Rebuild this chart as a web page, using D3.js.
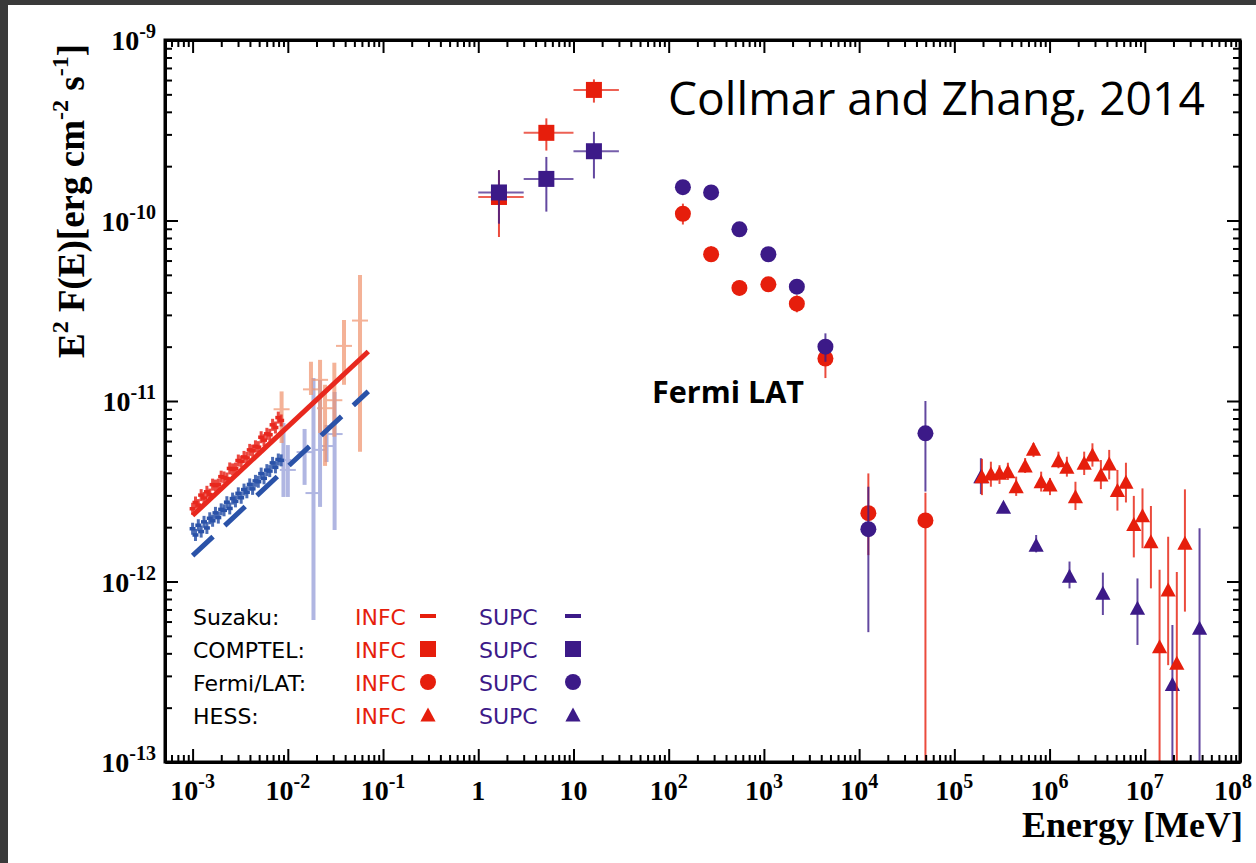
<!DOCTYPE html>
<html>
<head>
<meta charset="utf-8">
<script src="https://cdn.jsdelivr.net/npm/d3@7"></script>
<style>
  html, body { margin: 0; padding: 0; background: #fff; overflow: hidden; }
  svg { display: block; }
</style>
</head>
<body>
<svg id="chart" width="1256" height="863"></svg>
<script>
/* SED of a source: Suzaku, COMPTEL, Fermi/LAT and HESS points for two
   states (INFC in red, SUPC in purple). */

const WIDTH = 1256, HEIGHT = 863;
const plot = {left: 165, right: 1240, top: 40, bottom: 762};
const colors = {
    infc: '#e61e0c',
    supc: '#3c1a88',
    infcLine: '#e8281e',
    supcLine: '#2a52a8',
    infcLight: '#f0926c',
    supcLight: '#8f98d6',
    border: '#3a3a3a'
};

// axes
const xDomain = [5.13e-4, 1e8];
const yDomain = [1e-13, 1e-9];
const xMajor = [1e-3, 1e-2, 1e-1, 1, 10, 1e2, 1e3, 1e4, 1e5, 1e6, 1e7, 1e8];
const xTickLabels = [['10', '-3'], ['10', '-2'], ['10', '-1'], ['1', ''], ['10', ''],
    ['10', '2'], ['10', '3'], ['10', '4'], ['10', '5'], ['10', '6'], ['10', '7'], ['10', '8']];
const yMajor = [1e-13, 1e-12, 1e-11, 1e-10, 1e-9];
const yTickLabels = [['10', '-13'], ['10', '-12'], ['10', '-11'], ['10', '-10'], ['10', '-9']];

// Suzaku XIS (MeV, erg cm-2 s-1), INFC and SUPC share the energies
const suzakuE = [1.000e-3, 1.072e-3, 1.148e-3, 1.230e-3, 1.318e-3, 1.413e-3, 1.514e-3, 1.622e-3,
    1.738e-3, 1.862e-3, 1.995e-3, 2.138e-3, 2.291e-3, 2.455e-3, 2.630e-3, 2.818e-3,
    3.020e-3, 3.236e-3, 3.467e-3, 3.715e-3, 3.981e-3, 4.266e-3, 4.571e-3, 4.898e-3,
    5.248e-3, 5.623e-3, 6.026e-3, 6.457e-3, 6.918e-3, 7.413e-3, 7.943e-3, 8.511e-3];
const suzakuInfcF = [2.53e-12, 2.74e-12, 2.65e-12, 3.01e-12, 2.90e-12, 3.14e-12, 3.03e-12, 3.44e-12,
    3.40e-12, 3.44e-12, 3.81e-12, 3.77e-12, 3.72e-12, 4.23e-12, 4.18e-12, 4.22e-12,
    4.68e-12, 4.62e-12, 4.90e-12, 4.84e-12, 5.36e-12, 5.30e-12, 5.61e-12, 5.55e-12,
    6.30e-12, 6.07e-12, 6.58e-12, 6.50e-12, 7.38e-12, 7.13e-12, 8.09e-12, 7.80e-12];
const suzakuSupcF = [1.96e-12, 1.81e-12, 2.05e-12, 1.89e-12, 2.14e-12, 1.98e-12, 2.24e-12, 2.17e-12,
    2.40e-12, 2.26e-12, 2.51e-12, 2.48e-12, 2.75e-12, 2.54e-12, 2.88e-12, 2.78e-12,
    3.08e-12, 2.91e-12, 3.23e-12, 3.12e-12, 3.45e-12, 3.26e-12, 3.61e-12, 3.57e-12,
    3.96e-12, 3.73e-12, 4.14e-12, 4.09e-12, 4.54e-12, 4.29e-12, 4.74e-12, 4.69e-12];

// Suzaku hard X-ray points
const hardInfc = [
    {e: 8.6e-3, f: 9.0e-12, lo: 5.85e-12, hi: 1.13e-11},
    {e: 0.0175, f: 1.16e-11, lo: 1.08e-11, hi: 1.65e-11},
    {e: 0.0218, f: 1.31e-11, lo: 6.65e-12, hi: 1.69e-11},
    {e: 0.0246, f: 9.12e-12, lo: 4.37e-12, hi: 1.23e-11},
    {e: 0.0308, f: 1.01e-11, lo: 6.34e-12, hi: 1.63e-11},
    {e: 0.0389, f: 2.02e-11, lo: 1.23e-11, hi: 2.81e-11},
    {e: 0.0573, f: 2.79e-11, lo: 5.24e-12, hi: 4.99e-11}
];
const hardSupc = [
    {e: 9.0e-3, f: 4.71e-12, lo: 2.94e-12, hi: 7.55e-12},
    {e: 0.0100, f: 4.15e-12, lo: 2.94e-12, hi: 5.70e-12},
    {e: 0.0150, f: 5.21e-12, lo: 3.43e-12, hi: 7.00e-12},
    {e: 0.0186, f: 3.09e-12, lo: 6.12e-13, hi: 1.34e-11},
    {e: 0.0218, f: 5.36e-12, lo: 2.59e-12, hi: 1.31e-11},
    {e: 0.0255, f: 5.63e-12, lo: 4.59e-12, hi: 7.36e-12},
    {e: 0.0310, f: 6.56e-12, lo: 1.93e-12, hi: 1.12e-11}
];

// Suzaku power-law models
const modelInfc = [{e: 1e-3, f: 2.32e-12}, {e: 0.07, f: 1.88e-11}];
const modelSupc = [{e: 1e-3, f: 1.39e-12}, {e: 0.07, f: 1.13e-11}];

// COMPTEL
const comptelInfc = [
    {e: 1.65, elo: 1, ehi: 3, f: 1.35e-10, lo: 8.1e-11, hi: 1.9e-10},
    {e: 5.19, elo: 3, ehi: 10, f: 3.06e-10, lo: 2.44e-10, hi: 3.68e-10},
    {e: 16.4, elo: 10, ehi: 30, f: 5.29e-10, lo: 4.5e-10, hi: 6.05e-10}
];
const comptelSupc = [
    {e: 1.65, elo: 1, ehi: 3, f: 1.43e-10, lo: 9.6e-11, hi: 1.9e-10},
    {e: 5.19, elo: 3, ehi: 10, f: 1.70e-10, lo: 1.12e-10, hi: 2.25e-10},
    {e: 16.4, elo: 10, ehi: 30, f: 2.42e-10, lo: 1.71e-10, hi: 3.1e-10}
];

// Fermi/LAT
const latInfc = [
    {e: 141, f: 1.09e-10, lo: 0.95e-10, hi: 1.24e-10},
    {e: 279, f: 6.5e-11, lo: 5.9e-11, hi: 7.2e-11},
    {e: 553, f: 4.23e-11, lo: 3.85e-11, hi: 4.65e-11},
    {e: 1114, f: 4.43e-11, lo: 4.05e-11, hi: 4.85e-11},
    {e: 2218, f: 3.46e-11, lo: 3.1e-11, hi: 3.85e-11},
    {e: 4426, f: 1.72e-11, lo: 1.34e-11, hi: 2.05e-11},
    {e: 12500, f: 2.39e-12, lo: 1.4e-12, hi: 3.97e-12},
    {e: 49700, f: 2.18e-12, lo: 1e-14, hi: 3.1e-12}
];
const latSupc = [
    {e: 141, f: 1.53e-10, lo: 1.45e-10, hi: 1.61e-10},
    {e: 279, f: 1.43e-10, lo: 1.36e-10, hi: 1.5e-10},
    {e: 553, f: 8.93e-11, lo: 8.5e-11, hi: 9.4e-11},
    {e: 1114, f: 6.5e-11, lo: 6.2e-11, hi: 6.8e-11},
    {e: 2218, f: 4.3e-11, lo: 4.1e-11, hi: 4.5e-11},
    {e: 4426, f: 2.0e-11, lo: 1.65e-11, hi: 2.37e-11},
    {e: 12500, f: 1.95e-12, lo: 5.24e-13, hi: 3.35e-12},
    {e: 49700, f: 6.62e-12, lo: 3.15e-12, hi: 1.0e-11}
];

// HESS
const hessInfc = [
    {e: 1.95e5, f: 3.81e-12, lo: 3.01e-12, hi: 4.78e-12},
    {e: 2.42e5, f: 3.94e-12, lo: 3.35e-12, hi: 4.61e-12},
    {e: 2.98e5, f: 3.98e-12, lo: 3.47e-12, hi: 4.41e-12},
    {e: 3.65e5, f: 4.05e-12, lo: 3.65e-12, hi: 4.55e-12},
    {e: 4.46e5, f: 3.35e-12, lo: 2.98e-12, hi: 3.81e-12},
    {e: 5.54e5, f: 4.37e-12, lo: 3.99e-12, hi: 4.83e-12},
    {e: 6.78e5, f: 5.40e-12, lo: 4.89e-12, hi: 5.85e-12},
    {e: 8.16e5, f: 3.57e-12, lo: 3.15e-12, hi: 4.06e-12},
    {e: 1.01e6, f: 3.43e-12, lo: 3.01e-12, hi: 3.74e-12},
    {e: 1.24e6, f: 4.67e-12, lo: 4.24e-12, hi: 5.24e-12},
    {e: 1.52e6, f: 4.29e-12, lo: 3.81e-12, hi: 4.91e-12},
    {e: 1.87e6, f: 2.95e-12, lo: 2.49e-12, hi: 3.57e-12},
    {e: 2.31e6, f: 4.52e-12, lo: 3.89e-12, hi: 5.24e-12},
    {e: 2.82e6, f: 5.02e-12, lo: 4.33e-12, hi: 5.83e-12},
    {e: 3.46e6, f: 3.89e-12, lo: 3.25e-12, hi: 4.71e-12},
    {e: 4.23e6, f: 4.48e-12, lo: 3.68e-12, hi: 5.36e-12},
    {e: 5.16e6, f: 3.19e-12, lo: 2.47e-12, hi: 4.15e-12},
    {e: 6.34e6, f: 3.55e-12, lo: 2.74e-12, hi: 4.55e-12},
    {e: 7.67e6, f: 2.07e-12, lo: 1.36e-12, hi: 2.98e-12},
    {e: 9.46e6, f: 2.31e-12, lo: 1.53e-12, hi: 3.28e-12},
    {e: 1.16e7, f: 1.66e-12, lo: 9.16e-13, hi: 2.62e-12},
    {e: 1.43e7, f: 4.35e-13, lo: 1e-14, hi: 1.16e-12},
    {e: 1.76e7, f: 8.97e-13, lo: 3.44e-13, hi: 1.77e-12},
    {e: 2.17e7, f: 3.52e-13, lo: 1e-14, hi: 1.13e-12},
    {e: 2.64e7, f: 1.63e-12, lo: 6.81e-13, hi: 3.24e-12}
];
const hessSupc = [
    {e: 1.90e5, f: 3.81e-12, lo: 3.05e-12, hi: 4.82e-12},
    {e: 3.28e5, f: 2.58e-12, lo: 2.45e-12, hi: 2.72e-12},
    {e: 7.23e5, f: 1.59e-12, lo: 1.45e-12, hi: 1.81e-12},
    {e: 1.62e6, f: 1.07e-12, lo: 9.16e-13, hi: 1.29e-12},
    {e: 3.63e6, f: 8.6e-13, lo: 6.52e-13, hi: 1.12e-12},
    {e: 8.38e6, f: 7.1e-13, lo: 4.45e-13, hi: 1.04e-12},
    {e: 1.95e7, f: 2.69e-13, lo: 1e-14, hi: 5.74e-13},
    {e: 3.76e7, f: 5.5e-13, lo: 1e-14, hi: 1.97e-12}
];

// legend
const legendNames = ['Suzaku:', 'COMPTEL:', 'Fermi/LAT:', 'HESS:'];
const legendMarkers = ['dash', 'square', 'circle', 'triangle'];


const svg = d3.select('#chart');
svg.append('rect')
    .attr('x', 0).attr('y', 0).attr('width', WIDTH).attr('height', HEIGHT)
    .attr('fill', '#fff');
// dark slide edge, top and left
svg.append('rect').attr('x', 0).attr('y', 0).attr('width', WIDTH).attr('height', 5)
    .attr('fill', colors.border);
svg.append('rect').attr('x', 0).attr('y', 0).attr('width', 8).attr('height', HEIGHT)
    .attr('fill', colors.border);

const x = d3.scaleLog().domain(xDomain).range([plot.left, plot.right]);
const y = d3.scaleLog().domain(yDomain).range([plot.bottom, plot.top]);

svg.append('clipPath').attr('id', 'plot-clip')
    .append('rect')
    .attr('x', plot.left).attr('y', plot.top)
    .attr('width', plot.right - plot.left)
    .attr('height', plot.bottom - plot.top);

const layer = svg.append('g').attr('clip-path', 'url(#plot-clip)');

const TRIANGLE = 'M0,-7.5L7.6,6.5L-7.6,6.5Z';

function drawMarker(g, type, cx, cy, color) {
    if (type === 'square') {
        g.append('rect').attr('x', cx - 8).attr('y', cy - 8)
            .attr('width', 16).attr('height', 16).attr('fill', color);
    } else if (type === 'circle') {
        g.append('circle').attr('cx', cx).attr('cy', cy).attr('r', 8).attr('fill', color);
    } else if (type === 'triangle') {
        g.append('path').attr('d', TRIANGLE)
            .attr('transform', `translate(${cx},${cy})`).attr('fill', color);
    } else {
        g.append('rect').attr('x', cx - 8).attr('y', cy - 2)
            .attr('width', 16).attr('height', 4).attr('fill', color);
    }
}

/* error bars first, markers on top */
function drawSeries(points, type, color) {
    let g = layer.append('g');
    for (let d of points) {
        g.append('line')
            .attr('x1', x(d.e)).attr('x2', x(d.e))
            .attr('y1', y(Math.max(d.lo, 1e-15))).attr('y2', y(d.hi))
            .attr('stroke', color).attr('stroke-width', 2).attr('stroke-opacity', 0.8);
        if (d.elo) {
            g.append('line')
                .attr('x1', x(d.elo)).attr('x2', x(d.ehi))
                .attr('y1', y(d.f)).attr('y2', y(d.f))
                .attr('stroke', color).attr('stroke-width', 2).attr('stroke-opacity', 0.7);
        }
    }
    for (let d of points) drawMarker(g, type, x(d.e), y(d.f), color);
}

function drawHardX(points, color) {
    let g = layer.append('g').attr('opacity', 0.7);
    for (let d of points) {
        g.append('line')
            .attr('x1', x(d.e)).attr('x2', x(d.e))
            .attr('y1', y(d.lo)).attr('y2', y(d.hi))
            .attr('stroke', color).attr('stroke-width', 4);
        g.append('line')
            .attr('x1', x(d.e) - 8).attr('x2', x(d.e) + 8)
            .attr('y1', y(d.f)).attr('y2', y(d.f))
            .attr('stroke', color).attr('stroke-width', 2);
    }
}

function drawXis(values, color) {
    let g = layer.append('g');
    suzakuE.forEach((e, i) => {
        let px = x(e), py = y(values[i]);
        g.append('line')
            .attr('x1', px).attr('x2', px).attr('y1', py - 6).attr('y2', py + 6)
            .attr('stroke', color).attr('stroke-width', 3).attr('stroke-opacity', 0.85);
        g.append('line')
            .attr('x1', px - 3).attr('x2', px + 3).attr('y1', py).attr('y2', py)
            .attr('stroke', color).attr('stroke-width', 3.5);
    });
}

const modelLine = d3.line().x(d => x(d.e)).y(d => y(d.f));

// Suzaku
drawHardX(hardSupc, colors.supcLight);
drawHardX(hardInfc, colors.infcLight);
drawXis(suzakuSupcF, colors.supcLine);
drawXis(suzakuInfcF, colors.infcLine);
layer.append('path').datum(modelSupc).attr('d', modelLine)
    .attr('fill', 'none').attr('stroke', colors.supcLine)
    .attr('stroke-width', 5).attr('stroke-dasharray', '28,16');
layer.append('path').datum(modelInfc).attr('d', modelLine)
    .attr('fill', 'none').attr('stroke', colors.infcLine).attr('stroke-width', 5);

// gamma-ray points
drawSeries(comptelInfc, 'square', colors.infc);
drawSeries(comptelSupc, 'square', colors.supc);
drawSeries(latInfc, 'circle', colors.infc);
drawSeries(latSupc, 'circle', colors.supc);
drawSeries(hessSupc, 'triangle', colors.supc);
drawSeries(hessInfc, 'triangle', colors.infc);


/* axes: frame with inward ticks on all four sides */
function minorTicks(domain) {
    let ticks = [];
    let lo = Math.floor(Math.log10(domain[0])), hi = Math.ceil(Math.log10(domain[1]));
    for (let p = lo; p < hi; p++) {
        for (let m = 2; m <= 9; m++) {
            let v = m * Math.pow(10, p);
            if (v > domain[0] && v < domain[1]) ticks.push(v);
        }
    }
    return ticks;
}

function frameAxis(axisFn, scale, majors, minors, transform) {
    let g = svg.append('g').attr('transform', transform);
    g.call(axisFn(scale).tickValues(minors).tickSizeInner(-7).tickSizeOuter(0).tickFormat(''));
    g.select('.domain').remove();
    let g2 = svg.append('g').attr('transform', transform);
    g2.call(axisFn(scale).tickValues(majors).tickSizeInner(-13).tickSizeOuter(0).tickFormat(''));
    g.selectAll('line').attr('stroke', '#000').attr('stroke-width', 2);
    g2.selectAll('line').attr('stroke', '#000').attr('stroke-width', 2);
    g2.select('.domain').attr('stroke', '#000').attr('stroke-width', 3);
}

const xMinor = minorTicks(xDomain), yMinor = minorTicks(yDomain);
frameAxis(d3.axisBottom, x, xMajor, xMinor, `translate(0,${plot.bottom})`);
frameAxis(d3.axisTop, x, xMajor, xMinor, `translate(0,${plot.top})`);
frameAxis(d3.axisLeft, y, yMajor, yMinor, `translate(${plot.left},0)`);
frameAxis(d3.axisRight, y, yMajor, yMinor, `translate(${plot.right},0)`);
// square corners
svg.append('rect')
    .attr('x', plot.left).attr('y', plot.top)
    .attr('width', plot.right - plot.left).attr('height', plot.bottom - plot.top)
    .attr('fill', 'none').attr('stroke', '#000').attr('stroke-width', 3);

const serif = "'Liberation Serif', 'Times New Roman', serif";

function powerLabel(text, label) {
    text.append('tspan').text(label[0]);
    if (label[1]) {
        text.append('tspan').attr('dy', -12).attr('font-size', 20).text(label[1]);
    }
}

xMajor.forEach((v, i) => {
    let t = svg.append('text')
        .attr('x', x(v)).attr('y', 800)
        .attr('text-anchor', 'middle')
        .attr('font-family', serif).attr('font-weight', 'bold').attr('font-size', 28);
    powerLabel(t, xTickLabels[i]);
    // keep the last label inside the page
    let box = t.node().getBBox();
    if (box.x + box.width > WIDTH - 4) t.attr('x', x(v) - (box.x + box.width - (WIDTH - 4)));
});

yMajor.forEach((v, i) => {
    let t = svg.append('text')
        .attr('x', 156).attr('y', y(v) + 10)
        .attr('text-anchor', 'end')
        .attr('font-family', serif).attr('font-weight', 'bold').attr('font-size', 28);
    powerLabel(t, yTickLabels[i]);
});

// axis titles
svg.append('text')
    .attr('x', 1243).attr('y', 837)
    .attr('text-anchor', 'end')
    .attr('font-family', serif).attr('font-weight', 'bold').attr('font-size', 36)
    .text('Energy [MeV]');

let yTitle = svg.append('text')
    .attr('transform', 'translate(84,44) rotate(-90)')
    .attr('text-anchor', 'end')
    .attr('font-family', serif).attr('font-weight', 'bold').attr('font-size', 37);
[['E', 0], ['2', 1], [' F(E)[erg cm', 0], ['-2', 1], [' s', 0], ['-1', 1], [']', 0]]
    .forEach(([s, sup], i, arr) => {
        let prevSup = i > 0 && arr[i - 1][1];
        let ts = yTitle.append('tspan').text(s);
        if (sup) ts.attr('font-size', 24).attr('dy', -16);
        else if (prevSup) ts.attr('dy', 16);
    });

// annotations
function fitText(text, width) {
    let size = parseFloat(text.attr('font-size'));
    let len = text.node().getComputedTextLength();
    text.attr('font-size', size * width / len);
}

fitText(svg.append('text')
    .attr('x', 668).attr('y', 115)
    .attr('font-family', "'Open Sans', 'Noto Sans', sans-serif").attr('font-size', 44)
    .text('Collmar and Zhang, 2014'), 537);

fitText(svg.append('text')
    .attr('x', 652).attr('y', 403)
    .attr('font-family', "'Open Sans', 'Noto Sans', sans-serif").attr('font-weight', 'bold')
    .attr('font-size', 30)
    .text('Fermi LAT'), 152);

// legend
const legend = svg.append('g')
    .attr('font-family', "'DejaVu Sans', sans-serif").attr('font-size', 22);
legendNames.forEach((name, i) => {
    let base = 625 + i * 33;
    legend.append('text').attr('x', 193).attr('y', base).attr('fill', '#000').text(name);
    legend.append('text').attr('x', 355).attr('y', base).attr('fill', colors.infc).text('INFC');
    legend.append('text').attr('x', 479).attr('y', base).attr('fill', colors.supc).text('SUPC');
    drawMarker(legend, legendMarkers[i], 428, base - 9, colors.infc);
    drawMarker(legend, legendMarkers[i], 573, base - 9, colors.supc);
});
</script>
</body>
</html>
